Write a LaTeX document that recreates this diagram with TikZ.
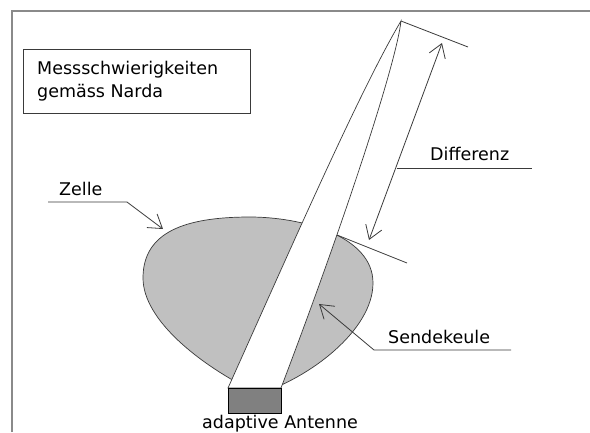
\documentclass[tikz,border=0pt]{standalone}
\usepackage{fontspec}
\setmainfont{DejaVu Sans}
\usetikzlibrary{arrows.meta}
\definecolor{cellgray}{HTML}{C0C0C0}
\definecolor{antgray}{HTML}{808080}
\definecolor{framegray}{HTML}{8A8A8A}
\definecolor{linegray}{HTML}{3A3A3A}
\begin{document}
\begin{tikzpicture}[x=1pt,y=-1pt,
  lbl/.style={font=\fontsize{17.5}{23}\selectfont, inner sep=0pt, anchor=base west},
  leader/.style={draw=linegray, line width=0.8pt},
  barb/.style={-{Straight Barb[length=13pt,width=17pt]}},
  dbarb/.style={{Straight Barb[length=13pt,width=17pt]}-{Straight Barb[length=13pt,width=17pt]}},
  outline/.style={draw=linegray, line width=0.7pt}
  ]
\useasboundingbox (0,0) rectangle (590,432);
% frame
\draw[framegray, line width=1.5pt] (12,432) -- (12,11) -- (590,11);
% title
\node[draw=linegray, line width=0.9pt, minimum width=227pt, minimum height=64pt, inner sep=0pt, anchor=north west] (titlebox) at (23,49) {};
\node[lbl, anchor=north west, align=left] (title) at (37,60.7) {Messschwierigkeiten\\gemäss Narda};
% cell
\filldraw[fill=cellgray, outline] (255,392) .. controls (200,365) and (143,320) .. (143,278)
  .. controls (143,232) and (185,217) .. (250,217)
  .. controls (300,217) and (373,235) .. (373,283)
  .. controls (373,330) and (310,378) .. (258,394) -- cycle;
% beam
\coordinate (apex) at (401,21);
\coordinate (bl) at (228,388);
\coordinate (br) at (281,388);
\filldraw[fill=white, outline] (bl) .. controls (290,250) and (360,90) .. (apex)
  .. controls (396,65) and (343,225) .. (br) -- cycle;
% antenna
\node[draw=black, fill=antgray, line width=0.9pt, minimum width=53pt, minimum height=25pt, inner sep=0pt, anchor=north west] (antenna) at (228,388) {};
\node[lbl] (antlabel) at (202,428) {adaptive Antenne};
% ticks
\coordinate (t2) at (468,47);
\draw[leader] (apex) -- (t2);
\coordinate (lobetop) at (337,235);
\coordinate (b2) at (407,263);
\draw[leader] (lobetop) -- (b2);
% Differenz
\coordinate (dtop) at (442,43);
\coordinate (dbot) at (369,240);
\draw[leader, dbarb] (dbot) -- (dtop);
\coordinate (d1) at (396.5,168);
\coordinate (d2) at (532,168);
\draw[leader] (d1) -- (d2);
\node[lbl] (difflabel) at (430,160) {Differenz};
% Zelle
\node[lbl] (zellelabel) at (59,195) {Zelle};
\coordinate (z1) at (48,202);
\coordinate (z2) at (127,202);
\coordinate (ztip) at (163,229);
\draw[leader, barb] (z1) -- (z2) -- (ztip);
% Sendekeule
\node[lbl] (sendlabel) at (388,343) {Sendekeule};
\coordinate (s1) at (511,350);
\coordinate (s2) at (374,350);
\coordinate (stip) at (319,304);
\draw[leader, barb] (s1) -- (s2) -- (stip);
\end{tikzpicture}
\end{document}
